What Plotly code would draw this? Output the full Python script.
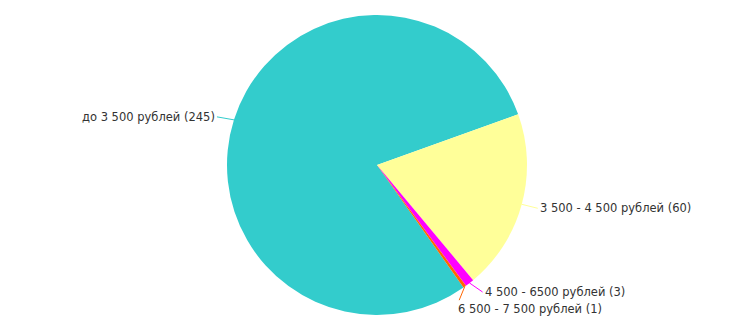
import math
import plotly.graph_objects as go

categories = ["до 3 500 рублей", "3 500 - 4 500 рублей", "4 500 - 6500 рублей", "6 500 - 7 500 рублей"]
values = [245, 60, 3, 1]
colors = ["#33CCCC", "#FFFF99", "#FF00FF", "#FF6600"]

W, H = 752, 333
CX, CY, R = 377, 165, 150
ROTATION = 144.8  # clockwise from 12 o'clock

# label offsets (px) from slice rim point, and anchor side
label_offsets = [(-17, -3, "right"), (16, 4, "left"), (13, 9, "left"), (-9, 22, "left")]

fig = go.Figure()
fig.add_trace(go.Pie(
    labels=categories, values=values, sort=False, direction="clockwise",
    rotation=ROTATION, textinfo="none", hoverinfo="label+value",
    marker=dict(colors=colors, line=dict(width=0)),
    domain=dict(x=[(CX - R) / W, (CX + R) / W], y=[1 - (CY + R) / H, 1 - (CY - R) / H]),
    showlegend=False,
))

total = sum(values)
cum = 0
annotations = []
for cat, v, col, (ox, oy, side) in zip(categories, values, colors, label_offsets):
    mid = ROTATION + (cum + v / 2) / total * 360
    cum += v
    a = math.radians(mid)
    px = CX + R * math.sin(a)
    py = CY - R * math.cos(a)
    annotations.append(dict(
        x=px / W, y=1 - py / H, xref="paper", yref="paper",
        text=f"{cat} ({v})", showarrow=True, arrowhead=0, arrowwidth=1,
        arrowcolor=col, ax=ox, ay=oy, xanchor=side, yanchor="middle",
        font=dict(family="DejaVu Sans, Verdana, sans-serif", size=11.5, color="#333333"),
    ))

fig.update_layout(
    width=W, height=H, margin=dict(l=0, r=0, t=0, b=0),
    paper_bgcolor="white", plot_bgcolor="white",
    annotations=annotations,
)
fig.write_html("out.html")
